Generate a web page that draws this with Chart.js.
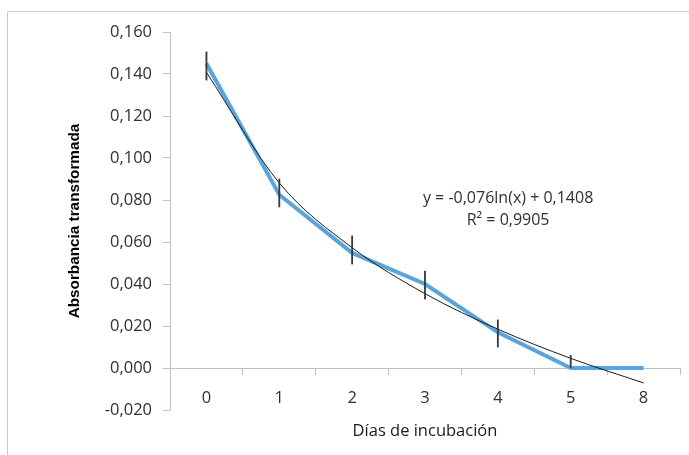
<!DOCTYPE html>
<html>
<head>
<meta charset="utf-8">
<script src="https://cdn.jsdelivr.net/npm/chart.js@4"></script>
<style>
  html, body { margin: 0; padding: 0; background: #fff; }
  #wrap { width: 689px; height: 455px; position: relative; }
</style>
</head>
<body>
<div id="wrap"><canvas id="myChart" width="689" height="455"></canvas></div>
<script>
/* data */
const days = ["0", "1", "2", "3", "4", "5", "8"];
const absorbance = [0.145, 0.0825, 0.0548, 0.040, 0.017, 0.000, 0.000];
const trendValues = [0.1408, 0.0881, 0.0573, 0.0354, 0.0185, 0.0046, -0.0071];
const errLow = [0.1371, 0.0767, 0.0495, 0.0329, 0.0100, 0.000, null];
const errHigh = [0.1505, 0.0900, 0.0629, 0.0462, 0.0229, 0.0060, null];
const yTickLabels = ["-0,020", "0,000", "0,020", "0,040", "0,060", "0,080", "0,100", "0,120", "0,140", "0,160"];
const equationLines = ["y = -0,076ln(x) + 0,1408", "R² = 0,9905"];

const axisColor = "#b9c6ce";
const tickFont = { family: "'Open Sans'", size: 16.5 };

/* error bars as floating bars */
const errBars = errLow.map((lo, i) => (lo === null ? null : [lo, errHigh[i]]));

/* frame + trendline equation */
const extrasPlugin = {
  id: "extras",
  beforeDraw: (chart) => {
    const ctx = chart.ctx;
    ctx.save();
    ctx.strokeStyle = "#c5cdcf";
    ctx.lineWidth = 1;
    ctx.beginPath();
    ctx.moveTo(7.5, 455);
    ctx.lineTo(7.5, 11.5);
    ctx.lineTo(689, 11.5);
    ctx.stroke();
    ctx.restore();
  },
  afterDraw: (chart) => {
    const ctx = chart.ctx;
    const area = chart.chartArea;
    ctx.save();
    ctx.fillStyle = "#303030";
    ctx.font = "16px 'Open Sans'";
    ctx.textAlign = "center";
    ctx.textBaseline = "middle";
    const cx = area.left + (area.right - area.left) * 0.663;
    ctx.fillText(equationLines[0], cx, 198);
    ctx.fillText(equationLines[1], cx, 220);
    ctx.restore();
  },
};

const ctx = document.getElementById("myChart");

new Chart(ctx, {
  data: {
    labels: days,
    datasets: [
      {
        type: "bar",
        label: "Error",
        data: errBars,
        backgroundColor: "#3a3a3a",
        barThickness: 1.2,
        order: 1,
      },
      {
        type: "line",
        label: "Tendencia",
        data: trendValues,
        borderColor: "#1a1a1a",
        borderWidth: 1,
        pointRadius: 0,
        fill: false,
        cubicInterpolationMode: "monotone",
        order: 2,
      },
      {
        type: "line",
        label: "Absorbancia",
        data: absorbance,
        borderColor: "#55a5e2",
        borderWidth: 4,
        pointRadius: 0,
        fill: false,
        tension: 0,
        order: 3,
      },
    ],
  },
  options: {
    responsive: false,
    animation: false,
    layout: {
      padding: { left: 60, right: 9, top: 32, bottom: 45 },
    },
    plugins: {
      legend: { display: false },
      tooltip: { enabled: false },
    },
    scales: {
      x: {
        type: "category",
        offset: true,
        position: { y: 0 },
        grid: {
          offset: true,
          drawOnChartArea: false,
          tickLength: 6,
          color: axisColor,
        },
        border: { color: axisColor },
        ticks: {
          color: "#303030",
          font: tickFont,
          padding: 14,
          maxRotation: 0,
        },
        title: {
          display: true,
          text: "Días de incubación",
          color: "#1a1a1a",
          padding: { top: 0, bottom: 2 },
          font: { family: "'Open Sans'", size: 16.5 },
        },
      },
      y: {
        min: -0.02,
        max: 0.16,
        afterFit: (scale) => {
          scale.width = 110;
        },
        grid: {
          drawOnChartArea: false,
          tickLength: 7,
          color: axisColor,
        },
        border: { color: axisColor },
        ticks: {
          stepSize: 0.02,
          color: "#303030",
          font: tickFont,
          padding: 11,
          callback: (value, index) => yTickLabels[index],
        },
        title: {
          display: true,
          text: "Absorbancia transformada",
          color: "#000000",
          padding: { top: 6, bottom: 0 },
          font: { family: "'Liberation Sans'", size: 15.3, weight: "bold" },
        },
      },
    },
  },
  plugins: [extrasPlugin],
});
</script>
</body>
</html>
